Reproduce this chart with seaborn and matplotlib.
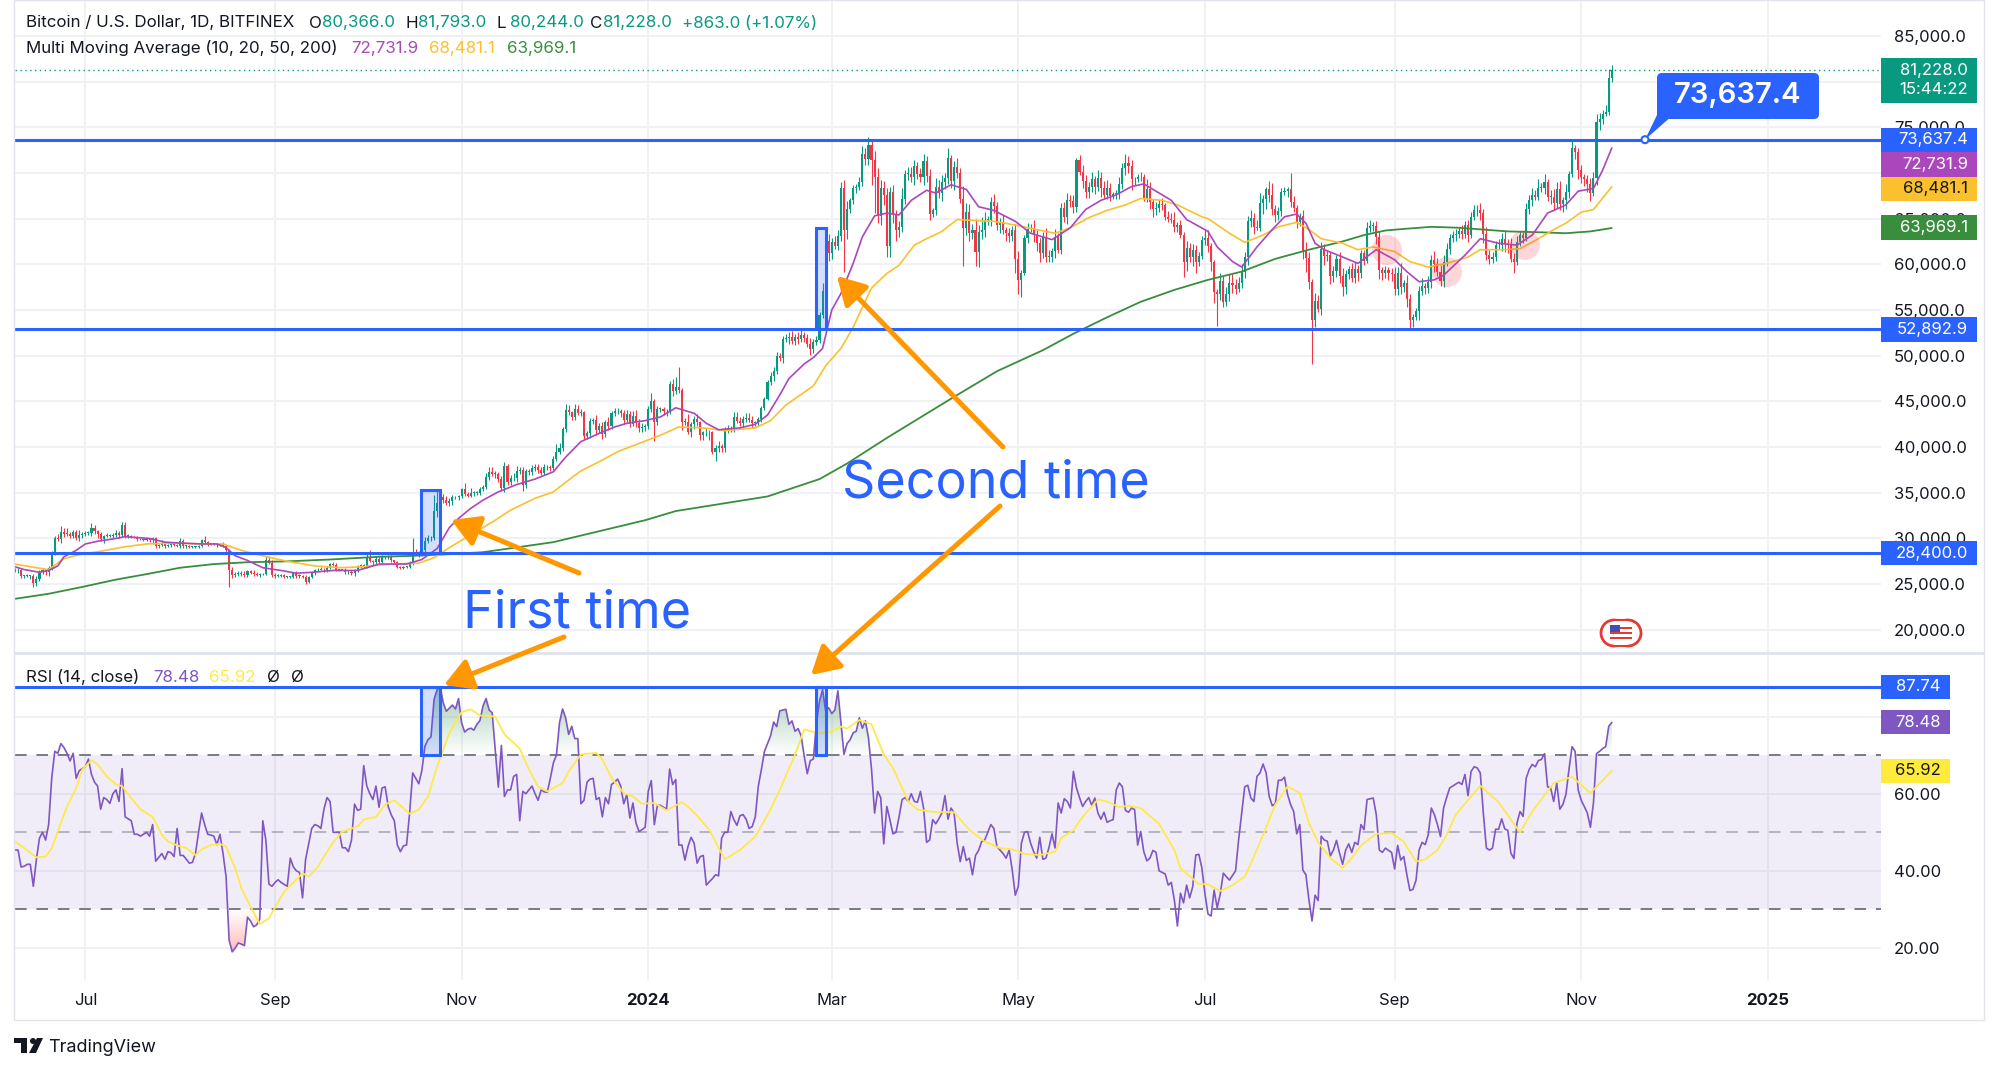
import numpy as np
import pandas as pd
import matplotlib
matplotlib.use("Agg")
import matplotlib.pyplot as plt
import matplotlib.dates as mdates
from matplotlib.patches import Rectangle, Circle, Polygon, FancyBboxPatch, PathPatch
from matplotlib.path import Path
import seaborn as sns

# ---------- data (USD thousand, daily, Jun 8 2023 .. Nov 11 2024) ----------
close_k = [26.5,
 26.5,25.9,25.9,25.9,25.9,25.1,25.6,26.3,26.5,26.3,26.8,28.3,30.0,29.9,30.7,30.5,30.5,30.3,30.7,30.1,30.4,30.5,
 30.6,30.6,31.2,30.8,30.5,29.9,30.3,30.3,30.3,30.4,30.6,30.4,31.5,30.3,30.3,30.2,30.1,29.9,29.9,29.8,29.9,29.8,30.1,29.2,29.3,29.4,29.2,29.3,29.4,29.3,29.2,
 29.7,29.2,29.2,29.1,29.1,29.1,29.2,29.8,29.6,29.4,29.4,29.4,29.3,29.4,29.2,28.7,26.6,26.0,26.1,26.2,26.1,26.0,26.4,26.2,26.1,26.0,26.1,26.1,27.7,27.3,26.0,
 25.9,25.9,26.0,25.8,25.8,25.8,26.2,25.9,25.9,25.8,25.2,25.8,26.2,26.5,26.6,26.6,26.5,26.8,27.2,27.1,26.6,26.6,26.6,26.3,26.3,26.2,26.4,27.0,27.0,27.0,
 28.0,27.5,27.4,27.8,27.4,28.0,28.0,28.0,27.6,27.4,26.9,26.8,26.9,26.9,27.2,28.5,28.4,28.3,28.7,29.7,30.0,30.0,33.0,33.9,34.5,34.2,33.9,34.1,34.5,34.5,34.6,
 35.4,34.9,34.7,35.0,35.0,35.0,35.4,35.6,36.7,37.3,37.1,37.1,36.5,35.5,37.9,36.2,36.6,36.6,37.4,37.5,35.8,37.4,37.3,37.7,37.8,37.5,37.2,37.8,37.8,37.7,
 38.7,39.5,39.9,42.0,44.1,43.8,43.3,44.2,43.7,43.8,41.2,41.5,42.9,43.0,41.9,42.3,41.4,42.7,42.3,43.7,43.9,44.0,43.7,43.0,43.6,42.5,43.4,42.6,42.1,42.2,42.3,
 44.2,45.0,42.8,44.2,44.2,43.9,43.9,46.9,46.1,46.6,46.3,42.8,42.8,41.7,42.5,43.1,42.7,41.3,41.6,41.7,41.6,39.5,39.9,40.1,39.9,41.8,42.1,42.0,43.3,42.9,42.6,
 43.1,43.2,43.0,42.6,42.7,43.1,44.3,45.3,47.1,47.8,48.3,50.0,49.7,51.8,51.9,52.1,51.6,52.1,51.8,52.3,51.9,51.3,50.7,51.5,51.7,54.5,57.1,62.5,61.2,
 62.4,62.0,63.1,68.3,63.8,66.1,67.0,68.3,68.5,69.0,72.1,71.5,73.1,71.4,69.5,65.3,68.4,67.6,62.0,67.9,65.5,63.8,64.1,67.2,69.9,69.9,69.5,70.8,69.9,69.6,71.3,
 69.7,65.5,65.9,68.5,67.8,69.0,69.4,71.6,69.1,70.6,70.0,67.2,64.0,65.7,63.4,63.8,61.3,63.5,63.8,64.9,64.9,66.8,66.4,64.3,64.5,63.8,63.4,63.1,63.8,60.6,
 58.3,59.1,62.9,63.9,64.0,63.2,62.3,61.2,63.0,60.8,60.8,61.5,63.0,61.6,66.2,65.2,67.0,66.9,66.3,71.4,70.1,69.1,67.9,68.5,69.3,68.5,69.4,68.3,67.6,68.4,67.5,
 67.7,67.7,68.8,70.5,71.1,70.8,69.3,69.3,69.6,69.5,67.3,68.2,66.8,66.0,66.2,66.6,66.5,65.2,65.0,64.9,64.1,64.3,63.2,60.3,61.8,60.8,61.6,60.3,60.9,62.7,
 62.9,62.0,60.2,57.0,56.7,58.2,55.9,56.7,58.0,57.7,57.3,57.9,59.2,60.8,64.7,65.1,64.1,64.0,66.7,67.1,68.2,67.6,66.0,65.4,65.8,67.9,68.0,68.2,66.8,66.2,64.6,
 65.3,61.5,60.7,58.1,53.9,56.0,55.1,61.7,60.9,61.0,58.7,59.3,60.6,58.7,57.5,58.9,59.5,58.5,59.5,59.0,61.2,60.4,64.0,64.2,64.2,63.0,59.4,59.0,59.4,59.1,58.9,
 57.3,59.1,57.5,58.0,56.2,53.9,54.2,54.9,57.1,57.6,57.4,58.1,60.5,60.0,59.2,58.2,60.3,61.7,62.9,63.2,63.3,63.6,63.3,64.3,63.2,65.2,65.9,65.9,65.6,63.3,
 61.0,60.6,60.8,62.1,62.1,62.8,62.2,62.1,60.6,60.3,62.4,63.2,62.9,66.0,67.0,67.6,67.4,68.4,68.4,69.0,67.4,67.4,66.7,68.2,66.6,67.0,67.9,69.9,72.7,72.3,70.3,
 69.5,69.3,68.8,67.8,69.4,75.6,75.9,76.5,76.7,80.4,81.228]

upper_wick_h = [  # USD hundreds above the body
 3,3,2,1,2,1,2,3,3,3, 2,2,3,3,5,7,4,6,2,2, 2,5,2,2,2,5,3,1,2,1, 3,2,2,3,2,3,3,2,1,1,
 2,1,2,1,1,1,1,1,4,1, 1,2,1,1,3,2,1,1,1,1, 1,1,5,1,1,1,1,1,2,1, 2,3,2,2,2,3,1,1,3,2,
 1,1,4,4,3,2,2,1,1,1, 1,1,2,2,1,2,1,1,2,2, 3,2,2,1,2,2,1,1,2,2, 2,3,1,2,2,3,7,2,3,2,
 2,1,2,2,1,1,1,1,1,3, 16,3,2,2,5,4,3,18,13,2, 4,4,3,3,2,2,1,7,2,5, 2,2,2,3,5,5,5,3,2,3,
 5,3,3,6,5,3,3,2,2,3, 4,3,3,4,2,2,3,8,5,2, 6,5,2,5,4,4,2,3,3,2, 5,3,4,3,6,3,4,3,2,4,
 5,3,5,7,5,4,2,3,9,3, 3,2,2,3,3,5,11,22,2,4, 8,3,3,5,2,2,4,2,2,3, 6,2,4,3,2,5,5,4,3,5,
 5,4,2,2,2,2,2,4,5,4, 3,4,5,5,6,3,5,5,3,5, 6,3,5,3,9,14,8,5,7,6, 7,9,8,3,4,3,5,8,6,8,
 5,10,10,8,7,8,6,8,4,6, 12,4,8,8,6,4,6,8,5,7, 3,9,7,8,6,11,4,7,10,5, 14,10,9,6,12,8,14,8,4,6,
 9,4,6,9,3,6,4,6,9,3, 3,6,4,8,6,6,5,10,8,3, 9,4,5,6,8,6,7,2,6,8, 7,5,8,4,9,7,8,8,5,2,
 4,8,6,10,8,6,3,3,5,4, 11,8,3,6,4,7,2,6,6,8, 3,5,3,7,5,6,5,5,4,8, 9,3,3,3,8,5,8,9,9,7,
 7,8,6,6,8,5,7,11,5,3, 9,13,5,5,5,5,3,18,7,3, 3,6,9,6,3,9,6,7,5,6, 4,5,4,8,9,5,3,6,7,4,
 4,4,6,7,4,5,6,3,4,3, 5,8,6,10,3,8,6,4,3,5, 9,4,6,5,10,7,7,7,6,4, 4,6,5,7,4,5,5,6,6,8,
 5,8,6,5,5,7,6,8,6,8, 6,7,4,3,7,6,8,5,9,5, 9,3,7,8,8,9,4,9,3,9,
 3,4,6,4,5,6,7,8,7,4,7,10,6]

lower_wick_h = [  # USD hundreds below the body
 2,3,2,2,1,3,4,3,2,2, 3,4,2,1,2,4,3,2,2,2, 3,4,3,2,2,3,3,4,2,4, 1,1,2,2,3,2,3,2,2,1,
 2,1,1,1,2,4,2,2,1,2, 1,2,1,1,2,2,2,1,1,1, 1,1,1,2,1,1,2,1,1,3, 19,3,2,2,2,2,2,1,2,1,
 2,1,1,1,2,2,1,1,1,1, 1,1,2,2,1,2,1,1,2,2, 1,2,2,1,1,2,2,1,2,2, 2,3,1,2,2,2,1,3,2,2,
 2,2,2,2,1,1,1,1,1,1, 1,2,3,2,2,2,3,2,6,3, 3,2,4,4,2,3,2,2,2,2, 3,2,2,2,2,3,3,5,3,3,
 4,3,3,3,4,3,6,3,3,3, 3,3,3,3,3,3,2,2,3,3, 3,3,3,3,2,3,3,3,5,4, 6,4,5,3,4,3,3,3,4,5,
 3,3,2,4,4,4,4,3,4,21, 4,4,4,5,3,5,3,4,9,4, 3,6,5,4,5,5,4,8,3,10, 4,4,4,3,3,3,3,3,4,3,
 3,5,3,4,3,2,2,3,6,3, 3,5,3,6,3,4,5,3,4,3, 6,4,3,3,4,10,8,6,3,4, 6,46,10,5,4,5,4,4,6,6,
 27,39,8,10,11,12,12,10,13,8, 6,6,7,5,8,6,6,9,7,6, 3,5,5,9,8,6,7,10,6,5, 42,8,9,6,15,16,7,8,6,7,
 8,5,9,5,8,7,6,15,16,19, 3,6,4,8,8,9,5,6,5,6, 8,4,5,6,8,6,7,6,3,8, 6,6,6,8,5,9,3,4,6,3,
 5,6,6,7,8,12,6,3,4,4, 5,7,8,6,5,6,3,4,4,6, 6,3,17,10,5,10,12,5,3,6, 7,9,12,34,6,6,5,7,8,5,
 3,5,7,9,6,8,3,4,12,11, 8,6,8,6,5,3,6,5,5,6, 4,9,15,8,48,8,3,6,10,5, 9,6,7,8,10,8,5,4,5,8,
 5,5,3,5,6,8,10,7,5,8, 7,7,7,7,5,9,10,8,3,10, 5,6,5,7,8,5,6,7,5,6, 5,6,4,5,4,8,3,4,6,7,
 10,5,6,5,4,4,6,9,9,4, 13,4,4,6,3,5,6,4,4,5, 7,5,8,8,5,7,9,9,6,4,
 8,10,6,7,9,9,3,7,9,5,3,4,4]

rsi_values = [
 45.4,45.4,41,41.2,41.7,41.7,36,43,48.5,50, 48,52,64,71,70.5,73,72,70.5,68.5,70.5,
 64,66,66.5,67,69,65,63,62,56,59, 58.5,57.5,60,61,58,66.5,54,53.5,53,49.5,
 49.5,49,49.5,50,49,52,42.5,43.5,44.5,43, 45,44.7,43.7,51,44,44,43,42,42.2,44.5,
 50,55,52,49.5,49.3,49,46.8,49.5,44.5,38.5, 22,19,20,21.3,21,20.6,28,27,25.5,26,
 27.4,53,48,36.6,36,37,37.7,37,36.5,36, 43.3,41,40,39.6,33,43,47,51,52,51.7,
 51,56,59,58,50,50,50,46,46,45, 48,57.3,55.7,56,67.3,62,60,58.5,62,56.5,
 61.5,61.8,56.7,54.5,53,46.7,45,46.5,46.7,55, 65.4,64,62.6,66,72.3,74,74.8,84.5,87,87.74,
 83.6,81.4,82.2,83,82,84.7,78.4,76,76.7,77, 76.5,78,79,82.8,84.7,81.7,81,71.5,61.7,72.5,
 59.3,61,61,64.5,65,53,60.6,60,61,62, 60,58.3,61,60.5,60.4,64,68,70,78.4,82,
 79.7,75.4,77.5,74.3,74.3,57.4,58.3,63,63.8,64, 58.5,59,54,59,57.4,62.4,63,63.8,62,57.4,
 59.8,53.7,57.6,52.4,50.2,50.7,51.3,60.6,63.4,52, 57,57,56.5,56,66.4,62.4,63.7,46.7,46.7,42.8,
 46.3,48.7,47.2,42,43.7,44,36.3,37.2,38,39, 38.7,48.5,50,50,55.4,53.3,51.8,54.3,54.6,53.4,
 51,51.5,54,62,66.3,71,73,75,78.6,77.4, 81.5,81.7,81.9,78,78.9,76.2,76.9,75,69.7,65.2,
 68.6,69,78.4,84,87,81.5,82.3,80.8,81.7,86.7, 78.4,70.2,73,74,75.8,76.2,79.7,77,78.9,74.5,
 66.3,55,60.6,59,47,56.7,53.3,49.6,50,54, 58.5,59,58,60,58,57.8,60.6,56.3,47.4,48,
 53.3,52.2,53.5,55,59.5,53.4,56.3,55,47.2,42.4, 46.3,42.7,43.3,39,44,45.3,47.6,48,50,52,
 51,46.3,45.4,44.5,43.3,45.4,40.2,33.7,36,47.2, 50,50.2,47.2,45,43.3,48.7,43,43.3,46,49.6,
 45.9,57.6,55,58.7,58,56.3,65.8,61.5,59,56.7, 58,59,57,58.9,55,53.4,55.2,52.6,53,53.3,
 61,62.8,61.8,55.7,55.2,56.3,55.9,46.7,50.2,45, 42.6,43.3,45.3,44.8,40,39.6,39.2,36.3,37,32.4,
 25.7,34.2,31.7,36.3,33,35.9,44.1,44.3,40.7,34, 28.8,28.3,35,30.4,34,39.4,38.5,37.6,38.8,40,
 48,55,61.8,62.2,58.9,58,64.5,65.4,67.7,65.4, 59.3,56.9,57.4,63.5,63.5,64.3,59.8,57.2,55.4,49.6,
 52,40.2,39,32.4,27,33.7,32.3,49,48,47.7, 43.9,45.4,47.9,44.6,41.7,45.4,47,44.8,47.4,46.8,
 52,50.7,58.5,58.7,58.9,54.6,45.4,44.8,45.9,45.3, 44.8,40.5,46.6,42.8,43.7,39,34.9,35.2,37.6,45.4,
 47.4,46.8,49.4,56.3,54.6,52,48.9,56.3,59,61.5, 62,62.5,63,62.4,65,59.5,65.8,67,66.7,65.4,
 55,45.9,45.4,45.9,50.8,50.8,53.5,50.9,50.5,44.6, 43.2,52.4,55.4,54.1,64,66.3,67.6,67,68.6,68.9,
 70.4,61.8,61.5,58,62.8,56,57.2,59.8,66.3,72.2, 71,61,58.3,56.7,55,51.3,57.6,70.4,71,71.7,
 72.2,77.5,78.48]

rsi_ma_day = [0,3,7,10,12,14,17,20,22,25,27,30,33,35,38,41,45,48,50,53,56,59,61,64,67,69,72,74,77,80,83,88,94,96,99,101,104,107,112,114,118,121,124,126,129,132,135,138,142,146,149,152,157,160,165,168,171,174,
 179,181,185,190,192,195,199,202,205,209,213,218,220,223,227,232,237,242,247,251,255,258,263,267,270,272,276,280,284,287,292,295,300,307,312,317,322,326,330,335,340,342,346,
 349,354,357,361,364,368,374,379,381,387,390,394,398,402,405,408,412,416,420,423,426,430,434,437,440,445,450,454,458,461,465,468,471,479,485,492,496,503,509,515,522]
rsi_ma_val = [47.6,45.9,43.5,43.7,45.9,50.2,56.7,61.5,66.3,68.7,67.6,64.5,62.4,62,58.9,56,54,49.3,47.6,46.6,45.9,44.1,45.6,46.7,47,46.3,40.7,35.5,30.7,26.2,27.7,34.6,39.4,38.5,41,43.7,47.4,50.2,51.5,53.3,54,57.2,58.3,56.9,54.8,55.9,59.2,67.1,75.8,81.2,81.9,80.3,80,75.4,71.7,66.3,61.8,60.6,
 62.8,65.8,70.2,70.6,68.9,64.1,60.2,59.3,57.4,57.6,55.7,57.8,56.7,54.3,50.6,43,45.4,48.9,55.9,62.8,70.2,76.7,75.6,76.2,77.4,76.9,79.1,78,70.2,66.7,58,55.9,55.3,55.2,50.6,47.6,45.9,45.6,44.4,44.1,45,48.5,50.6,
 54,58.5,58,56.5,56.9,56.3,52.2,45.4,40.7,36.6,36.5,34.8,36.3,38.5,43.7,49.3,57.2,61.9,60.2,52.4,47.4,43.3,40.8,43.3,46.6,49.6,49.8,47.6,42.4,43,45.4,49.3,54.6,62.1,57.8,50,55.4,62.8,64.4,60.2,65.92]

ma_fast_day = [0,3,8,11,14,16,20,23,27,33,36,40,44,49,54,61,66,69,72,76,81,87,92,97,104,112,119,128,133,138,142,
 145,149,153,158,164,170,176,180,185,191,196,200,206,211,216,222,226,230,237,242,246,250,253,258,261,
 264,267,270,274,277,281,285,289,293,298,301,306,311,315,320,327,332,339,345,350,355,360,365,369,372,378,383,
 390,393,398,401,406,411,415,419,422,425,428,434,439,445,451,455,459,464,467,474,479,485,491,496,501,507,511,516,519,522]
ma_fast_val = [26.9,26.6,26.3,26.5,27,28,28.7,29.4,29.7,30,30.2,30.1,30,29.6,29.5,29.4,29.4,29,28.1,27.6,26.8,26.5,26.2,26.3,26.5,26.5,27.2,27.2,27.7,28.9,31.2,
 32.2,33.3,34.2,35.1,35.9,36.5,37.3,38.9,40.6,41.5,42.2,42.6,42.9,43.3,44.3,43.7,42.6,41.9,42.1,42.5,43.5,45.7,47.5,49.1,49.8,
 50.8,55,56.8,60.1,63,65.3,65.6,65.4,67,68.1,67.8,68.7,68.2,66.3,65.9,64.7,63.4,62.7,64,66,67,67.6,68.5,68.8,68.2,67,64.9,
 63.6,61.9,60.3,59.7,61.9,63.8,65.2,65.5,64.5,62.3,61.6,60.8,60.1,61.6,60.5,59.2,58.1,58.3,58.8,61,62.8,62.3,62.1,63.2,65.6,66.5,68,68.3,70.3,72.7319]

ma_mid_day = [0,7,11,16,22,28,36,43,52,61,68,74,81,89,98,106,113,123,132,137,143,
 157,162,170,176,181,185,191,197,204,211,217,225,232,242,247,252,258,261,265,
 270,274,277,280,285,289,294,298,303,308,313,320,327,334,340,345,351,357,363,368,375,380,388,
 390,397,402,408,413,419,423,427,434,439,444,451,456,462,468,475,479,486,492,498,503,507,512,516,522]
ma_mid_val = [27.2,26.8,26.6,27.8,28.3,28.6,29.1,29.4,29.5,29.4,29.4,28.7,28.1,27.5,27,26.8,26.9,27.2,27.3,27.9,29.2,
 32,33.1,34.4,35.1,36.4,37.4,38.4,39.5,40.4,41.3,42.2,42.1,41.8,42.1,42.9,44.6,46,46.7,48.9,
 50.8,53.1,55.3,57.4,59,59.9,62.1,62.8,63.6,64.9,64.8,64.7,64.3,63.8,63.4,64,65.1,65.9,66.5,67.2,67,66.5,65.2,
 65,63.4,62.4,63.2,64.1,64.6,63.8,62.8,62.3,61.6,61.9,61.4,60.3,59.7,60.1,60.8,61.6,61.6,61.7,62.8,63.8,64.5,65.7,66,68.4811]

ma_slow_day = [0,11,22,33,43,54,65,76,89,103,119,130,143,153,176,206,216,231,246,263,272,285,307,321,336,346,357,368,379,390,401,412,423,434,441,448,455,463,472,480,488,499,507,515,522]
ma_slow_val = [23.4,23.95,24.7,25.5,26.1,26.8,27.2,27.4,27.5,27.7,28,28.1,28.3,28.5,29.6,32,33,33.8,34.6,36.5,38.2,41,45.5,48.3,50.6,52.4,54.2,55.9,57.2,58.3,59.2,60.6,61.6,62.5,63.2,63.7,63.9,64.1,64,63.8,63.6,63.5,63.4,63.6,63.969]

price_ticks = [20000,25000,30000,35000,40000,45000,50000,55000,60000,65000,70000,75000,80000,85000]
rsi_ticks = [20,40,60,80]
time_labels = ["Jul","Sep","Nov","2024","Mar","May","Jul","Sep","Nov","2025"]
time_dates = ["2023-07-01","2023-09-01","2023-11-01","2024-01-01","2024-03-01","2024-05-01","2024-07-01","2024-09-01","2024-11-01","2025-01-01"]
levels_price = [73637.4, 52892.9, 28400.0]
level_rsi = 87.74
last_close = 81228.0

# ---------- style ----------
sns.set_theme(style="white")
FONT = ["Inter", "DejaVu Sans"]
plt.rcParams["font.family"] = FONT
BLUE, UP, DOWN = "#2962ff", "#089981", "#f23645"
PURPLE, ORANGE, GREEN = "#ab47bc", "#fbc02d", "#388e3c"
RSI_C, RSI_MA_C = "#7e57c2", "#ffe94a"
GRID, INK, BORDER = "#f0f1f4", "#131722", "#e0e3eb"
W, H = 1992, 1069

fig = plt.figure(figsize=(W/100, H/100), dpi=100, facecolor="white")
def pane(top, bottom, sharex=None):
    return fig.add_axes([15/W, 1-bottom/H, (1881-15)/W, (bottom-top)/H], sharex=sharex)
ax = pane(0, 653)
ax2 = pane(653, 980, sharex=ax)

# ---------- tables ----------
start = pd.Timestamp("2023-06-08")
dates = pd.date_range(start, periods=len(close_k), freq="D")
x = mdates.date2num(dates)
close = np.array(close_k) * 1000
open_ = np.r_[close[0], close[:-1]]
high = np.maximum(open_, close) + np.array(upper_wick_h) * 100
low = np.minimum(open_, close) - np.array(lower_wick_h) * 100
candles = pd.DataFrame(dict(x=x, open=open_, close=close, high=high, low=low))
candles["color"] = np.where(candles.close >= candles.open, UP, DOWN)

def line_frame(days, vals, scale=1.0):
    return pd.DataFrame({"x": x[0] + np.array(days), "y": np.array(vals) * scale})

# ---------- price pane ----------
ax.set_xlim(mdates.date2num(pd.Timestamp("2023-06-08")), mdates.date2num(pd.Timestamp("2025-02-07")))
ax.set_ylim(17470, 88920)
tick_x = mdates.date2num(pd.to_datetime(time_dates))
for a in (ax, ax2):
    a.set_xticks(tick_x)
    a.grid(True, color=GRID, lw=1.4, zorder=0)
    a.set_axisbelow(True)
    for s in a.spines.values():
        s.set_visible(False)
    a.yaxis.tick_right()
    a.tick_params(axis="both", length=0)
    a.set_xlabel(""); a.set_ylabel("")

ax.vlines(candles.x, candles.low, candles.high, colors=candles.color, lw=0.8, zorder=3)
ax.bar(candles.x, (candles.close-candles.open).abs().clip(lower=60), bottom=candles[["open","close"]].min(axis=1),
       width=0.68, color=candles.color, linewidth=0, zorder=3)
sns.lineplot(data=line_frame(ma_slow_day, ma_slow_val, 1000), x="x", y="y", ax=ax, color=GREEN, lw=1.3, estimator=None, legend=False, zorder=4)
sns.lineplot(data=line_frame(ma_mid_day, ma_mid_val, 1000), x="x", y="y", ax=ax, color=ORANGE, lw=1.2, estimator=None, legend=False, zorder=4)
sns.lineplot(data=line_frame(ma_fast_day, ma_fast_val, 1000), x="x", y="y", ax=ax, color=PURPLE, lw=1.2, estimator=None, legend=False, zorder=4)
ax.set_xlabel(""); ax.set_ylabel("")
ax.axhline(last_close, color=UP, lw=1, ls=(0, (1, 2.5)), zorder=2)
for lv in levels_price:
    ax.axhline(lv, color=BLUE, lw=2.2, zorder=5)
ax.set_yticks(price_ticks)
ax.set_yticklabels([f"{v:,.1f}" for v in price_ticks], fontsize=12, color=INK)
ax.tick_params(axis="y", pad=9.4)
ax.tick_params(axis="x", labelbottom=False)

d = lambda s: mdates.date2num(pd.Timestamp(s))
def box(a, x0, x1, y0, y1):
    a.add_patch(Rectangle((d(x0), y0), d(x1)-d(x0), y1-y0, facecolor=BLUE, alpha=0.2, lw=0, zorder=6))
    a.add_patch(Rectangle((d(x0), y0), d(x1)-d(x0), y1-y0, facecolor="none", edgecolor=BLUE, lw=2.2, zorder=6))
box(ax, "2023-10-18 18:00", "2023-10-25", 28400, 35300)
box(ax, "2024-02-25", "2024-02-28", 52893, 63970)

# ---------- RSI pane ----------
ax2.set_ylim(11.7, 96.5)
rsi = np.array(rsi_values)
ax2.axhspan(30, 70, color=RSI_C, alpha=0.1, lw=0, zorder=1)
ax2.axhline(70, color="#787b86", lw=1.4, ls=(0, (6, 5)), zorder=2)
ax2.axhline(50, color="#787b86", lw=1.4, ls=(0, (6, 5)), alpha=0.5, zorder=2)
ax2.axhline(30, color="#787b86", lw=1.4, ls=(0, (6, 5)), zorder=2)

def gradient(a, colour, lo, hi, strong_at_top, peak):
    rgba = np.zeros((256, 1, 4))
    rgba[..., :3] = matplotlib.colors.to_rgb(colour)
    ramp = np.linspace(0, peak, 256) if strong_at_top else np.linspace(peak, 0, 256)
    rgba[:, 0, 3] = ramp
    im = a.imshow(rgba, extent=[x[0], x[-1], lo, hi], origin="lower", aspect="auto", zorder=2)
    if strong_at_top:
        poly = a.fill_between(x, lo, rsi, where=rsi > lo, interpolate=True, facecolor="none", lw=0)
    else:
        poly = a.fill_between(x, rsi, hi, where=rsi < hi, interpolate=True, facecolor="none", lw=0)
    comp = Path.make_compound_path(*poly.get_paths())
    im.set_clip_path(PathPatch(comp, transform=a.transData, facecolor="none"))

gradient(ax2, "#2e8b57", 70, 88, True, 0.45)
gradient(ax2, "#ff5252", 19, 30, False, 0.4)
ax2.set_xlim(ax.get_xlim()); ax2.set_ylim(11.7, 96.5)

rsi_df = pd.DataFrame({"x": x[:len(rsi)], "y": rsi})
sns.lineplot(data=rsi_df, x="x", y="y", ax=ax2, color=RSI_C, lw=1.2, estimator=None, legend=False, zorder=4)
sns.lineplot(data=line_frame(rsi_ma_day, rsi_ma_val), x="x", y="y", ax=ax2, color=RSI_MA_C, lw=1.3, estimator=None, legend=False, zorder=4)
ax2.set_xlabel(""); ax2.set_ylabel("")
ax2.axhline(level_rsi, color=BLUE, lw=2.2, zorder=5)
ax2.set_yticks(rsi_ticks)
ax2.set_yticklabels([f"{v:.2f}" for v in rsi_ticks], fontsize=12, color=INK)
ax2.tick_params(axis="y", pad=9.4)
ax2.set_xticklabels(time_labels, fontsize=12, color=INK)
ax2.tick_params(axis="x", pad=9.5)
for lab in ax2.get_xticklabels():
    if lab.get_text() in ("2024", "2025"):
        lab.set_fontweight("bold")
box(ax2, "2023-10-18 18:00", "2023-10-25", 70, 87.74)
box(ax2, "2024-02-25", "2024-02-28", 70, 87.74)

# ---------- overlay in pixel space ----------
ov = fig.add_axes([0, 0, 1, 1], facecolor="none", zorder=10)
ov.set_xlim(0, W); ov.set_ylim(H, 0); ov.axis("off")
def ypx(a, v):
    return H - a.transData.transform((x[0], v))[1]

for a_, b_, c_, e_ in [(14, 0, 14, 1020), (14, 1020, 1984, 1020), (1984, 0, 1984, 1020), (14, 0, 1984, 0), (14, 653, 1984, 653)]:
    lw = 2 if b_ == 653 else 1
    ov.plot([a_, c_], [b_, e_], color=BORDER, lw=lw, solid_capstyle="butt", zorder=1)

# pink circles on MA touches
for cx_, cy_ in [(1387, 250), (1447, 272), (1525, 245)]:
    ov.add_patch(Circle((cx_, cy_), 15, facecolor=DOWN, alpha=0.2, lw=0, zorder=2))

def tag(a, v, right, text, colour, tcolor="white", h=24, sub=None, top=None, bottom=None):
    yc = ypx(a, v)
    t = yc - h/2 if top is None else top
    b = yc + h/2 if bottom is None else bottom
    ov.add_patch(Rectangle((1881, t), right-1881, b-t, facecolor=colour, lw=0, zorder=5))
    tx = right - 9
    if sub:
        ov.text(tx, t + 13, text, ha="right", va="center", fontsize=12, color=tcolor, zorder=6)
        ov.text(tx, t + 31, sub, ha="right", va="center", fontsize=12, color=tcolor, zorder=6)
    else:
        ov.text(tx, (t+b)/2, text, ha="right", va="center", fontsize=12, color=tcolor, zorder=6)

tag(ax, 81228, 1977, "81,228.0", UP, sub="15:44:22", top=58, bottom=103)
tag(ax, 73637.4, 1977, "73,637.4", BLUE)
tag(ax, 72731.9, 1977, "72,731.9", PURPLE, top=152, bottom=177)
tag(ax, 68481.1, 1977, "68,481.1", ORANGE, tcolor=INK, top=177, bottom=201)
tag(ax, 63969.1, 1977, "63,969.1", GREEN, top=215, bottom=240)
tag(ax, 52892.9, 1977, "52,892.9", BLUE, h=25)
tag(ax, 28400.0, 1977, "28,400.0", BLUE)
tag(ax2, 87.74, 1950, "87.74", BLUE)
tag(ax2, 78.48, 1950, "78.48", RSI_C)
tag(ax2, 65.92, 1950, "65.92", "#ffeb3b", tcolor=INK)

# callout
ov.add_patch(FancyBboxPatch((1661, 77), 154, 38, boxstyle="round,pad=4,rounding_size=5", facecolor=BLUE, lw=0, zorder=6))
ov.add_patch(Polygon([(1657, 115), (1673, 115), (1645, ypx(ax, 73637.4))], closed=True, facecolor=BLUE, lw=0, zorder=6))
ov.add_patch(Circle((1645, ypx(ax, 73637.4)), 3.5, facecolor="white", edgecolor=BLUE, lw=1.5, zorder=7))
ov.text(1738, 96, "73,637.4", ha="center", va="center", fontsize=21, fontweight="semibold", color="white", zorder=8)

# arrows
arrow = dict(arrowstyle="-|>,head_length=0.7,head_width=0.4", color="#ff9800", lw=3.6, mutation_scale=24, shrinkA=0, shrinkB=0)
for tail, head in [((579, 573), (451, 520)), ((564, 637), (444, 685)), ((1003, 447), (837, 276)), ((1000, 506), (811, 675))]:
    ov.annotate("", xy=head, xytext=tail, arrowprops=arrow, zorder=7)

ov.text(463, 627, "First time", fontsize=37.5, color=BLUE, ha="left", va="baseline", zorder=8)
ov.text(842, 497, "Second time", fontsize=37.5, color=BLUE, ha="left", va="baseline", zorder=8)

# header
HF = 12.2
def hdr(px_, py_, s, c=INK):
    ov.text(px_, py_, s, fontsize=HF, color=c, ha="left", va="center", zorder=9)
hdr(26, 23, "Bitcoin / U.S. Dollar, 1D, BITFINEX")
for lx, vx, l_, v_ in [(309, 322, "O", "80,366.0"), (405.6, 418, "H", "81,793.0"), (497, 510, "L", "80,244.0"), (590, 603, "C", "81,228.0")]:
    hdr(lx, 23, l_); hdr(vx, 23, v_, UP)
hdr(682, 23, "+863.0 (+1.07%)", UP)
hdr(26, 48, "Multi Moving Average (10, 20, 50, 200)")
hdr(351, 48, "72,731.9", PURPLE); hdr(428.6, 48, "68,481.1", ORANGE); hdr(507, 48, "63,969.1", GREEN)
hdr(26, 677, "RSI (14, close)")
hdr(153, 677, "78.48", RSI_C); hdr(209, 677, "65.92", RSI_MA_C)
hdr(266.6, 677, "Ø"); hdr(291, 677, "Ø")

# flag icon
for cx_ in (1614, 1628):
    ov.add_patch(Circle((cx_, 633), 13, facecolor="white", edgecolor="#e53935", lw=2, zorder=6))
ov.add_patch(Rectangle((1614, 621), 14, 24, facecolor="white", lw=0, zorder=7))
ov.plot([1614, 1628], [620, 620], color="#e53935", lw=1.5, zorder=7)
ov.plot([1614, 1628], [646, 646], color="#e53935", lw=1.5, zorder=7)
for i in range(3):
    ov.add_patch(Rectangle((1610, 627+i*5), 22, 2.4, facecolor="#e53935", lw=0, zorder=8))
ov.add_patch(Rectangle((1610, 625), 10, 7, facecolor="#3f51b5", lw=0, zorder=9))

# TradingView logo
ov.add_patch(Polygon([(14, 1038), (27, 1038), (27, 1053), (21, 1053), (21, 1043), (14, 1043)], closed=True, facecolor=INK, lw=0, zorder=8))
ov.add_patch(Circle((33, 1041), 3, facecolor=INK, lw=0, zorder=8))
ov.add_patch(Polygon([(37, 1038), (43, 1038), (36, 1053), (29, 1053)], closed=True, facecolor=INK, lw=0, zorder=8))
ov.text(48.5, 1047, "TradingView", fontsize=13, color=INK, ha="left", va="center", zorder=8)

fig.savefig("out.png", dpi=100, facecolor="white")
